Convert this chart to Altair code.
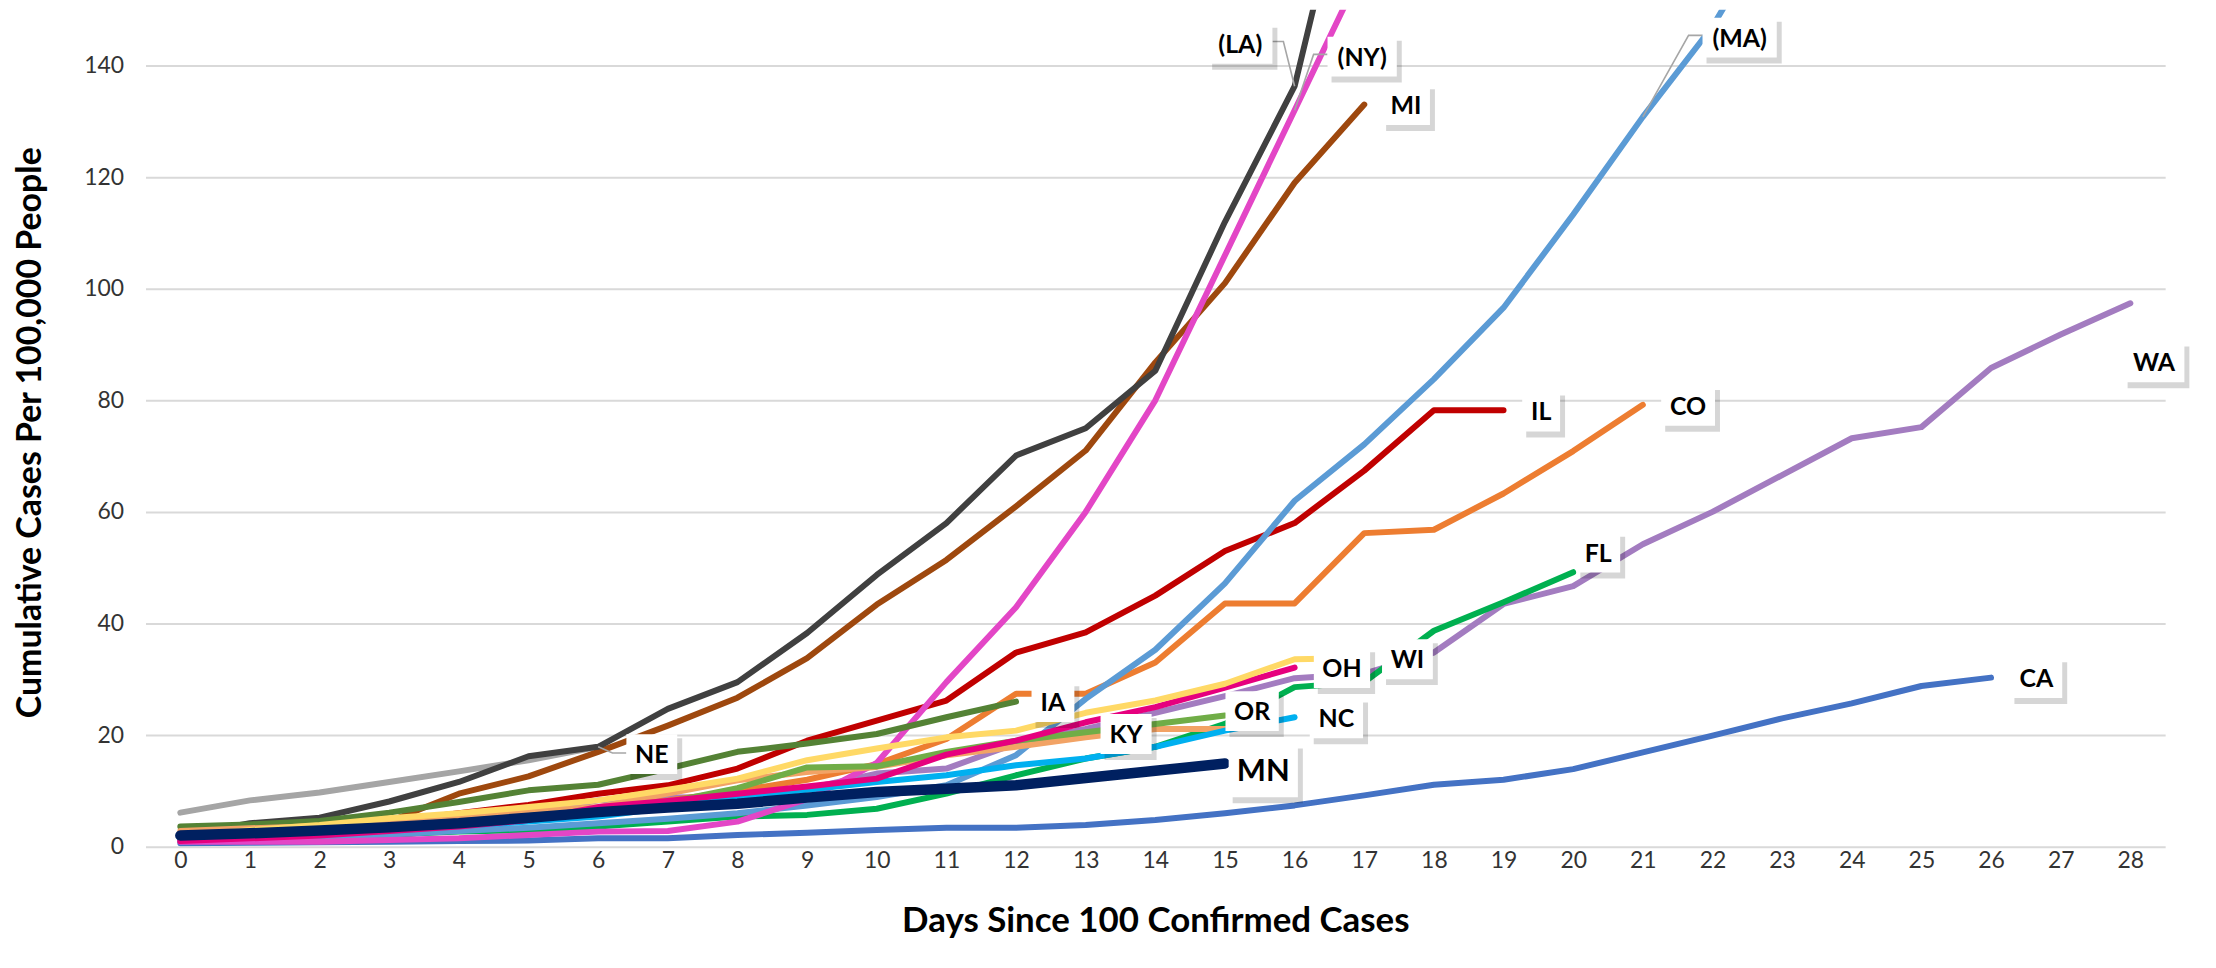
import altair as alt
import pandas as pd

# ---------------- data ----------------
LA = [2.0, 4.2, 5.2, 8.1, 11.6, 16.2, 17.9, 24.7, 29.5, 38.3, 48.7, 58.0, 70.1, 75.0, 85.3, 112.0, 136.3, 188.0]
NY = [0.9, 0.9, 0.9, 1.2, 1.5, 2.1, 2.7, 2.8, 4.5, 8.5, 15.0, 29.5, 42.9, 60.0, 80.0, 106.0, 132.0, 158.0]
MI = [1.5, 2.0, 2.8, 4.5, 9.5, 12.6, 17.0, 21.7, 26.7, 33.8, 43.4, 51.4, 61.0, 71.0, 86.8, 101.0, 119.0, 133.0]
MA = [1.2, 1.5, 1.8, 2.2, 2.8, 3.4, 4.2, 5.0, 6.0, 7.4, 8.9, 11.0, 16.4, 26.5, 35.3, 47.2, 62.0, 72.1,
      83.8, 96.6, 113.3, 130.8, 147.0, 168.0]
IL = [2.0, 2.5, 3.5, 4.5, 6.0, 7.5, 9.5, 11.0, 14.0, 19.0, 22.6, 26.2, 34.8, 38.4, 45.0, 53.0, 58.0, 67.4,
      78.2, 78.2]
CO = [2.5, 3.0, 3.5, 4.3, 5.2, 6.0, 7.0, 8.3, 10.0, 12.0, 14.8, 19.3, 27.4, 27.4, 33.0, 43.6, 43.6, 56.2,
      56.8, 63.3, 70.9, 79.2]
WA = [1.2, 1.4, 1.5, 1.6, 3.8, 5.9, 8.3, 8.8, 8.9, 10.4, 13.1, 14.0, 18.5, 21.1, 24.0, 27.0, 30.2, 31.0,
      34.8, 43.5, 46.7, 54.2, 60.0, 66.6, 73.2, 75.2, 85.8, 91.8, 97.4]
FL = [1.0, 1.3, 1.7, 2.2, 2.7, 3.0, 3.6, 4.5, 5.4, 5.7, 6.8, 9.5, 12.8, 15.8, 17.9, 22.0, 28.6, 29.5,
      38.7, 43.8, 49.2]
CA = [0.6, 0.7, 0.8, 0.9, 1.0, 1.1, 1.5, 1.5, 2.1, 2.5, 3.0, 3.4, 3.4, 3.9, 4.8, 6.0, 7.4, 9.2, 11.1,
      12.0, 13.9, 16.9, 19.9, 23.0, 25.7, 28.8, 30.3]
NE = [6.1, 8.3, 9.7, 11.6, 13.5, 15.5, 17.9]
IA = [3.6, 4.0, 4.6, 6.1, 8.0, 10.1, 11.1, 14.0, 17.0, 18.5, 20.2, 23.2, 26.0]
KY = [2.8, 3.3, 3.7, 4.6, 5.7, 6.3, 7.1, 9.5, 11.9, 13.4, 14.3, 16.4, 17.9, 19.6, 21.1, 21.1]
OR = [2.0, 2.5, 3.0, 3.6, 4.5, 5.5, 6.5, 8.0, 10.5, 14.2, 14.4, 17.0, 19.0, 20.5, 22.0, 23.5]
NC = [1.5, 2.0, 2.5, 3.0, 3.7, 4.5, 5.4, 7.0, 8.9, 10.2, 11.6, 12.8, 14.6, 15.8, 17.9, 20.8, 23.2]
OH = [1.0, 1.5, 2.0, 2.8, 3.6, 4.8, 7.1, 8.2, 9.5, 10.8, 12.2, 16.5, 19.0, 22.3, 25.0, 28.5, 32.1]
WI = [1.8, 3.0, 3.9, 5.1, 6.0, 7.1, 8.3, 10.2, 12.2, 15.5, 17.6, 19.6, 20.8, 24.0, 26.2, 29.2, 33.6, 33.8]
MN = [2.0, 2.4, 2.9, 3.5, 4.2, 5.2, 6.2, 7.0, 7.7, 8.8, 9.8, 10.4, 11.0, 12.3, 13.6, 14.9]

series = {"NE": NE, "CA": CA, "WA": WA, "FL": FL, "CO": CO, "IL": IL, "MA": MA, "MI": MI, "LA": LA,
          "NY": NY, "IA": IA, "KY": KY, "OR": OR, "NC": NC, "OH": OH, "WI": WI, "MN": MN}
colors = {"NE": "#A5A5A5", "CA": "#4472C4", "WA": "#A37CC0", "FL": "#00B050", "CO": "#ED7D31",
          "IL": "#C00000", "MA": "#5B9BD5", "MI": "#9E480E", "LA": "#404040", "NY": "#E346C6",
          "IA": "#548235", "KY": "#F2A365", "OR": "#70AD47", "NC": "#00B0F0", "OH": "#E6007E",
          "WI": "#FFD966", "MN": "#002060"}

day_ticks = list(range(0, 29))
value_ticks = [0, 20, 40, 60, 80, 100, 120, 140]

# data labels (text, centre day, centre value)
label_text = ["(LA)", "(NY)", "MI", "(MA)", "IL", "CO", "WA", "FL", "CA", "NE", "IA", "KY", "OR",
              "NC", "MN", "OH", "WI"]
label_day = [15.22, 16.97, 17.6, 22.39, 19.54, 21.65, 28.34, 20.36, 26.65, 6.77, 12.53, 13.58, 15.39,
             16.6, 15.55, 16.68, 17.62]
label_val = [143.9, 141.6, 132.9, 145.0, 78.0, 79.0, 86.8, 52.7, 30.2, 16.6, 25.9, 20.2, 24.3,
             23.0, 13.6, 32.0, 33.6]
# labels joined to their line by a leader: (label, series, day of point, side of box)
leaders = [("(LA)", "LA", 16, "right"), ("(NY)", "NY", 16, "left"),
           ("(MA)", "MA", 21, "left"), ("NE", "NE", 6, "left")]

# ---------------- geometry helpers ----------------
W, H = 2027, 840
XDOM = [-0.5, 28.5]
YDOM = [0, 150]
ppd = W / (XDOM[1] - XDOM[0])
ppu = H / (YDOM[1] - YDOM[0])

char_w = {"(": 0.33, ")": 0.33, "A": 0.70, "C": 0.66, "E": 0.56, "F": 0.54, "H": 0.76, "I": 0.30,
          "K": 0.69, "L": 0.50, "M": 0.90, "N": 0.76, "O": 0.78, "R": 0.64, "W": 1.02, "Y": 0.64}


def font_size(t):
    return 31 if t == "MN" else 25


rows = []
for s, vals in series.items():
    for d, v in enumerate(vals):
        rows.append({"state": s, "day": d, "value": v})
df = pd.DataFrame(rows)

lab_rows = []
for t, d, v in zip(label_text, label_day, label_val):
    fs = font_size(t)
    tw = sum(char_w.get(c, 0.65) for c in t) * fs
    hw = (tw + 18) / 2.0
    hh = (53 if t == "MN" else 40) / 2.0
    lab_rows.append({"text": t, "day": d, "value": v, "fs": fs,
                     "x1": d - hw / ppd, "x2": d + hw / ppd,
                     "y1": v - hh / ppu, "y2": v + hh / ppu,
                     "sx1": d - hw / ppd + 4 / ppd, "sx2": d + hw / ppd + 5 / ppd,
                     "sy1": v - hh / ppu - 6 / ppu, "sy2": v + hh / ppu - 4 / ppu})
lab = pd.DataFrame(lab_rows)

lead_rows = []
for t, s, tday, side in leaders:
    r = lab[lab.text == t].iloc[0]
    if side == "right":
        sx = r.x2
        ex = sx + 11 / ppd
    else:
        sx = r.x1
        ex = sx - 14 / ppd
    lv = r.value + (0.2 if t == "NE" else 0.4)
    pts = [(sx, lv), (ex, lv), (tday, series[s][tday])]
    for i, (px, py) in enumerate(pts):
        lead_rows.append({"lead": t, "i": i, "day": px, "value": py})
lead = pd.DataFrame(lead_rows)

# ---------------- chart ----------------
xs = alt.Scale(domain=XDOM, nice=False, zero=False)
ys = alt.Scale(domain=YDOM, nice=False, zero=True)
FONT = "Lato"
XT = "Days Since 100 Confirmed Cases"
YT = "Cumulative Cases Per 100,000 People"

x_axis = alt.Axis(values=day_ticks, grid=False, ticks=False, tickSize=0, domain=False,
                  labelFontSize=23, labelPadding=3, labelColor="#333333", labelFont=FONT,
                  title=XT, titleFontSize=35, titleFont=FONT,
                  titleFontWeight="bold", titleColor="#000000", titleY=74,
                  titleBaseline="middle")
y_axis = alt.Axis(values=value_ticks, grid=True, gridColor="#D9D9D9", gridWidth=2, ticks=False,
                  tickSize=0, domain=False, labelFontSize=23, labelPadding=22,
                  labelColor="#333333", labelFont=FONT,
                  title=YT, titleFontSize=34, titleFont=FONT,
                  titleFontWeight="bold", titleColor="#000000", titleX=-115, titleY=424,
                  titleBaseline="middle")


def X(field):
    return alt.X(field, scale=xs, axis=x_axis, title=XT)


def Y(field):
    return alt.Y(field, scale=ys, axis=y_axis, title=YT)


color_scale = alt.Scale(domain=list(colors.keys()), range=list(colors.values()))

lines = alt.Chart(df[df.state != "MN"]).mark_line(
    strokeWidth=6, clip=True, strokeCap="round", strokeJoin="round"
).encode(
    x=X("day:Q"),
    y=Y("value:Q"),
    color=alt.Color("state:N", scale=color_scale, legend=None),
    order="day:Q",
)

mn_line = alt.Chart(df[df.state == "MN"]).mark_line(
    strokeWidth=10.5, clip=True, strokeCap="round", strokeJoin="round", color=colors["MN"]
).encode(
    x=X("day:Q"),
    y=Y("value:Q"),
    order="day:Q",
)

leader_lines = alt.Chart(lead).mark_line(color="#A6A6A6", strokeWidth=1.6).encode(
    x=X("day:Q"),
    y=Y("value:Q"),
    detail="lead:N",
    order="i:Q",
)

shadow = alt.Chart(lab).mark_rect(color="#000000", opacity=0.16).encode(
    x=X("sx1:Q"), x2="sx2:Q",
    y=Y("sy1:Q"), y2="sy2:Q",
)

boxes = alt.Chart(lab).mark_rect(color="#FFFFFF").encode(
    x=X("x1:Q"), x2="x2:Q",
    y=Y("y1:Q"), y2="y2:Q",
)

texts = alt.Chart(lab).mark_text(font=FONT, fontWeight="bold", color="#000000",
                                 align="center", baseline="middle", dy=1).encode(
    x=X("day:Q"),
    y=Y("value:Q"),
    text="text:N",
    size=alt.Size("fs:Q", scale=None, legend=None),
)

chart = alt.layer(lines, mn_line, leader_lines, shadow, boxes, texts).properties(
    width=W, height=H,
    autosize=alt.AutoSizeParams(type="none"),
    padding={"left": 138, "top": 0, "right": 43, "bottom": 120},
    background="#FFFFFF",
).configure_view(stroke=None)

chart.save("out.html", embed_options={"renderer": "svg", "actions": False})
